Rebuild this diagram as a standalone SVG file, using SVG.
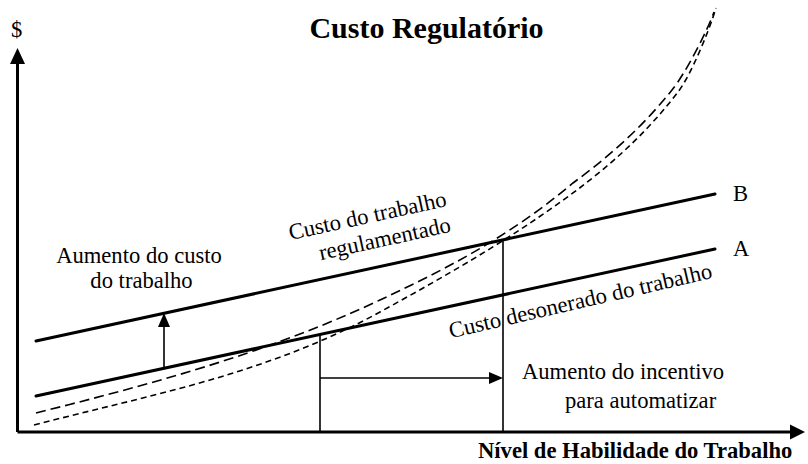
<svg xmlns="http://www.w3.org/2000/svg" width="808" height="464" viewBox="0 0 808 464">
<defs>
<style>
text{font-family:"Liberation Serif","Times New Roman",serif;fill:#000;font-size:22.6px}
.b{font-weight:bold}
.axis{stroke:#000;stroke-width:3;fill:none}
.cost{stroke:#000;stroke-width:3;fill:none;stroke-linecap:round}
.thin{stroke:#000;stroke-width:1.6;fill:none}
.ld{stroke:#000;stroke-width:1.6;fill:none;stroke-dasharray:10 5}
.sd{stroke:#000;stroke-width:1.6;fill:none;stroke-dasharray:6 4}
.head{fill:#000}
</style>
</defs>
<rect width="808" height="464" fill="#fff"/>
<g id="title"><text class="b" x="426.5" y="38" text-anchor="middle" style="font-size:30px">Custo Regulatório</text></g>
<g id="axes">
<path class="axis" d="M17.5 432 V62 M17.5 432 H792"/>
<polygon class="head" points="17.5,48 10,64 25,64"/>
<polygon class="head" points="805,432 790,424.5 790,439.5"/>
<text x="11" y="37">$</text>
<text class="b" x="478" y="458">Nível de Habilidade do Trabalho</text>
</g>
<g id="curves">
<path class="ld" d="M36 413 C151 384 265 354 380 300 C444 270 509 237 573 183 C606 158.6 639 131 672 90 C686 72.5 707 31.6 714 12"/>
<path class="sd" d="M34 425 C149 395 265 375 380 312 C446 275.7 511 239 577 190 C610 165 645 135 678 92 C691 75 709 31 716 8"/>
</g>
<g id="lineB">
<line class="cost" x1="36" y1="341" x2="715" y2="194"/>
<text x="733" y="201">B</text>
</g>
<g id="lineA">
<line class="cost" x1="36" y1="396" x2="715" y2="249"/>
<text x="733" y="256">A</text>
</g>
<g id="connectors">
<line class="thin" x1="164" y1="368" x2="164" y2="325"/>
<polygon class="head" points="164,313 158,327 170,327"/>
<line class="thin" x1="320" y1="334" x2="320" y2="432"/>
<line class="thin" x1="503" y1="240" x2="503" y2="432"/>
<line class="thin" x1="320" y1="378" x2="492" y2="378"/>
<polygon class="head" points="503,378 489,372 489,384"/>
</g>
<g id="label-aumento-custo">
<text x="139" y="263" text-anchor="middle">Aumento do custo</text>
<text x="141.5" y="288" text-anchor="middle">do trabalho</text>
</g>
<g id="label-regulamentado" transform="translate(369 223) rotate(-12.3)">
<text x="0" y="0" text-anchor="middle">Custo do trabalho</text>
<text x="12" y="26" text-anchor="middle">regulamentado</text>
</g>
<g id="label-desonerado" transform="translate(582 308) rotate(-13)">
<text x="0" y="0" text-anchor="middle">Custo desonerado do trabalho</text>
</g>
<g id="label-incentivo">
<text x="522" y="379">Aumento do incentivo</text>
<text x="565" y="408">para automatizar</text>
</g>
</svg>
